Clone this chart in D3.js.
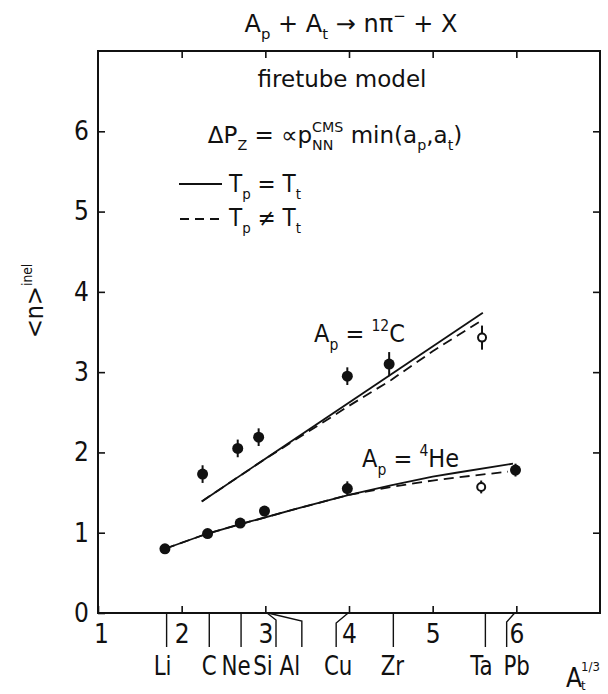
<!DOCTYPE html>
<html>
<head>
<meta charset="utf-8">
<script src="https://cdn.jsdelivr.net/npm/d3@7"></script>
<style>
html,body{margin:0;padding:0;background:#fff;}
svg{display:block;}
text{font-family:"DejaVu Sans Condensed","DejaVu Sans",sans-serif;fill:#111;}
.wide text, text.wide{font-family:"DejaVu Sans",sans-serif;}
</style>
</head>
<body>
<svg id="chart" width="608" height="694"></svg>
<script>
// ---- data ----
const xTicks = [1, 2, 3, 4, 5, 6];
const yTicks = [0, 1, 2, 3, 4, 5, 6];
const elemNames  = ["Li", "C", "Ne", "Si", "Al", "Cu", "Zr", "Ta", "Pb"];
const elemValues = [1.82, 2.33, 2.71, 3.02, 3.03, 3.99, 4.53, 5.63, 5.98];

// A_p = 4He data
const heX    = [1.80, 2.31, 2.70, 2.99, 3.98, 5.58, 5.99];
const heY    = [0.80, 0.99, 1.12, 1.27, 1.55, 1.57, 1.78];
const heErr  = [0, 0, 0, 0, 0.09, 0.08, 0.08];
const heOpen = [false, false, false, false, false, true, false];
// A_p = 12C data
const cX    = [2.25, 2.67, 2.92, 3.98, 4.48, 5.59];
const cY    = [1.73, 2.05, 2.19, 2.95, 3.10, 3.43];
const cErr  = [0.11, 0.11, 0.11, 0.11, 0.15, 0.15];
const cOpen = [false, false, false, false, false, true];

// model curves
const cSolidX  = [2.24, 5.60];
const cSolidY  = [1.39, 3.74];
const cDashX   = [2.24, 3.0, 3.5, 4.0, 4.5, 5.0, 5.61];
const cDashY   = [1.39, 1.92, 2.25, 2.58, 2.90, 3.26, 3.66];
const heSolidX = [1.80, 2.31, 2.82, 3.41, 4.0, 4.5, 5.0, 5.3, 5.96];
const heSolidY = [0.80, 0.99, 1.14, 1.31, 1.47, 1.59, 1.70, 1.75, 1.86];
const heDashX  = [1.80, 2.31, 2.82, 3.41, 4.0, 4.5, 5.0, 5.3, 5.9];
const heDashY  = [0.80, 0.99, 1.14, 1.31, 1.47, 1.57, 1.65, 1.69, 1.76];

// ---- layout ----
const svg = d3.select("#chart");
const x = d3.scaleLinear().domain([1, 7]).range([98, 600]);
const y = d3.scaleLinear().domain([0, 7]).range([613, 51]);
const INK = "#111";

// rich text helper: segments [text, mode] mode: n | sub | sup | stack(sup,sub)
function rich(parent, cx, cy, segs, size, anchor, cls, supScale) {
  const ss = supScale || 0.62;
  const g = parent.append("g").attr("class", cls || null);
  let cur = 0;
  segs.forEach(s => {
    const mode = s[1] || "n";
    if (mode === "stack") {
      const a = g.append("text").attr("x", cur).attr("y", -0.5 * size).style("font-size", (ss * size) + "px").text(s[0]);
      const b = g.append("text").attr("x", cur).attr("y", 0.32 * size).style("font-size", (ss * size) + "px").text(s[2]);
      cur += Math.max(a.node().getComputedTextLength(), b.node().getComputedTextLength());
    } else {
      const fs = mode === "n" ? size : ss * size;
      const dy = mode === "sub" ? 0.3 * size : (mode === "sup" ? -0.45 * size : 0);
      const t = g.append("text").attr("x", cur).attr("y", dy).style("font-size", fs + "px").attr("xml:space", "preserve").text(s[0]);
      cur += t.node().getComputedTextLength();
    }
  });
  const off = anchor === "middle" ? -cur / 2 : (anchor === "end" ? -cur : 0);
  g.attr("transform", `translate(${cx + off},${cy})`);
  return g;
}

// frame
svg.append("rect")
  .attr("x", x(1)).attr("y", y(7))
  .attr("width", x(7) - x(1)).attr("height", y(0) - y(7))
  .attr("fill", "none").attr("stroke", INK).attr("stroke-width", 2);

// axes (ticks inward)
const axB = svg.append("g").attr("transform", `translate(0,${y(0)})`)
  .call(d3.axisBottom(x).tickValues(xTicks).tickSizeInner(-7).tickSizeOuter(0).tickPadding(12).tickFormat(d3.format("d")));
const axL = svg.append("g").attr("transform", `translate(${x(1)},0)`)
  .call(d3.axisLeft(y).tickValues(yTicks).tickSizeInner(-7).tickSizeOuter(0).tickPadding(9).tickFormat(d3.format("d")));
const axT = svg.append("g").attr("transform", `translate(0,${y(7)})`)
  .call(d3.axisTop(x).tickValues(xTicks.slice(1)).tickSizeInner(-7).tickSizeOuter(0).tickFormat(""));
const axR = svg.append("g").attr("transform", `translate(${x(7)},0)`)
  .call(d3.axisRight(y).tickValues(yTicks.slice(1)).tickSizeInner(-7).tickSizeOuter(0).tickFormat(""));
[axB, axL, axT, axR].forEach(a => {
  a.select(".domain").remove();
  a.selectAll(".tick line").attr("stroke", INK).attr("stroke-width", 1.6);
  a.selectAll(".tick text").style("font-size", "26px").attr("fill", INK);
});
axB.selectAll(".tick text").filter(d => d === 1).attr("dx", 3);

// element leader lines and labels
const leadDx = {Si: 9, Al: 34, Cu: -12, Pb: -8};
const leadDy = {Si: 7, Al: 8, Cu: 10, Pb: 9};
const labelDx = {Li: -4, C: 0, Ne: -5, Si: -13, Al: -12, Cu: 2, Zr: -1, Ta: -4, Pb: 10};
const elems = elemNames.map((n, i) => ({n, v: elemValues[i]}));
const eg = svg.append("g");
elems.forEach(e => {
  const x0 = x(e.v), dx = leadDx[e.n] || 0, dy = leadDy[e.n] || 0;
  const pts = dx ? [[x0, y(0)], [x0 + dx, y(0) + dy], [x0 + dx, y(0) + 34]] : [[x0, y(0)], [x0, y(0) + 34]];
  eg.append("path").attr("d", d3.line()(pts)).attr("fill", "none").attr("stroke", INK).attr("stroke-width", 1.4);
  const lx = x0 + dx + (labelDx[e.n] || 0);
  eg.append("g").attr("transform", `translate(${lx},${y(0) + 62}) scale(0.88,1)`)
    .append("text").attr("text-anchor", "middle").style("font-size", "27px").text(e.n);
});

// x axis title A_t^{1/3}
const xt = svg.append("g");
xt.append("text").attr("x", 566).attr("y", 687).style("font-size", "26px").text("A");
xt.append("text").attr("x", 581).attr("y", 690).style("font-size", "13px").text("t");
xt.append("text").attr("x", 581).attr("y", 671).style("font-size", "13px").text("1/3");

// y axis title <n>^inel
const yt = svg.append("g").attr("transform", "translate(43,338) rotate(-90)");
rich(yt, 0, 0, [["<n>", "n"], ["inel", "sup"]], 25, "start", null, 0.55);

// title and annotations
rich(svg, 351, 32, [["A"], ["p", "sub"], [" + A"], ["t", "sub"], [" → nπ"], ["−", "sup"], [" + X"]], 24, "middle", "wide");
rich(svg, 342, 87, [["firetube model"]], 23, "middle", "wide");
rich(svg, 335, 143, [["ΔP"], ["Z", "sub"], [" = ∝p"], ["CMS", "stack", "NN"], [" min(a"], ["p", "sub"], [",a"], ["t", "sub"], [")"]], 23, "middle", "wide");

// legend
svg.append("line").attr("x1", 179).attr("x2", 222).attr("y1", 184).attr("y2", 184)
  .attr("stroke", INK).attr("stroke-width", 1.8);
svg.append("line").attr("x1", 180).attr("x2", 225).attr("y1", 219).attr("y2", 219)
  .attr("stroke", INK).attr("stroke-width", 1.8).attr("stroke-dasharray", "9,6");
rich(svg, 229, 192, [["T"], ["p", "sub"], [" = T"], ["t", "sub"]], 24, "start");
rich(svg, 229, 226, [["T"], ["p", "sub"], [" ≠ T"], ["t", "sub"]], 24, "start");

rich(svg, 314, 342, [["A"], ["p", "sub"], [" = "], ["12", "sup"], ["C"]], 25, "start");
rich(svg, 362, 467, [["A"], ["p", "sub"], [" = "], ["4", "sup"], ["He"]], 25, "start");

// model curves
const line = d3.line().x(d => x(d[0])).y(d => y(d[1]));
const curves = [
  [cSolidX, cSolidY, null], [cDashX, cDashY, "10,6"],
  [heSolidX, heSolidY, null], [heDashX, heDashY, "10,6"]
];
curves.forEach(([xs, ys, dash]) => {
  svg.append("path").datum(xs.map((v, i) => [v, ys[i]]))
    .attr("d", line).attr("fill", "none").attr("stroke", INK).attr("stroke-width", 1.8)
    .attr("stroke-dasharray", dash);
});

// data points
function points(xs, ys, errs, opens) {
  const d = xs.map((v, i) => ({x: v, y: ys[i], e: errs[i], o: opens[i]}));
  const g = svg.append("g");
  g.selectAll("line.err").data(d.filter(p => p.e > 0)).join("line")
    .attr("x1", p => x(p.x)).attr("x2", p => x(p.x))
    .attr("y1", p => y(p.y - p.e)).attr("y2", p => y(p.y + p.e))
    .attr("stroke", INK).attr("stroke-width", 2);
  g.selectAll("circle").data(d).join("circle")
    .attr("cx", p => x(p.x)).attr("cy", p => y(p.y))
    .attr("r", p => p.o ? 4 : 5.5)
    .attr("fill", p => p.o ? "#fff" : INK)
    .attr("stroke", INK).attr("stroke-width", p => p.o ? 2 : 0);
}
points(heX, heY, heErr, heOpen);
points(cX, cY, cErr, cOpen);
</script>
</body>
</html>
